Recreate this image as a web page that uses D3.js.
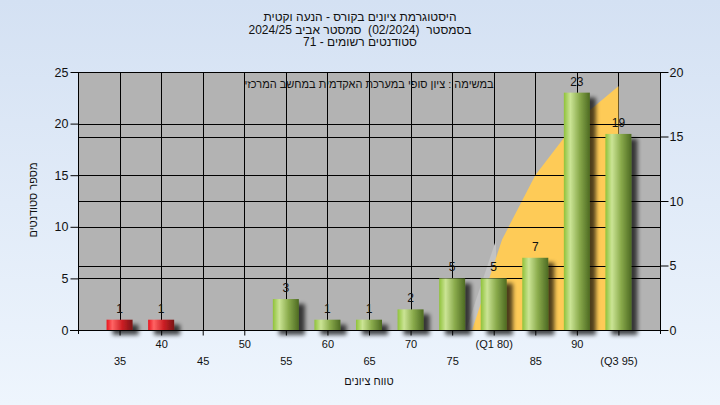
<!DOCTYPE html>
<html>
<head>
<meta charset="utf-8">
<script src="https://cdn.jsdelivr.net/npm/d3@7"></script>
<style>
  body { margin: 0; }
  svg { display: block; font-family: Arial, "Liberation Sans", sans-serif; }
</style>
</head>
<body>
<div id="chart"></div>
<script>
// data
const categories = ['35', '40', '45', '50', '55', '60', '65', '70', '75', '80', '85', '90', '95'];
const tickLabels = ['35', '40', '45', '50', '55', '60', '65', '70', '75', '(Q1 80)', '85', '90', '(Q3 95)'];
const counts = [1, 1, 0, 0, 3, 1, 1, 2, 5, 5, 7, 23, 19];
const failing = ['35', '40'];
const curveGrades = [77.4, 81, 85, 90, 95];
const curveValues = [0, 7.0, 12, 16.2, 18.9];
const leftTicks = [0, 5, 10, 15, 20, 25];
const rightTicks = [0, 5, 10, 15, 20];
const titleLines = [
  'היסטוגרמת ציונים בקורס - הנעה וקטית',
  'בסמסטר  (02/2024)  סמסטר אביב 2024/25',
  'סטודנטים רשומים - 71'
];
const noteText = 'במשימה : ציון סופי במערכת האקדמית במחשב המרכזי';
const yTitle = 'מספר סטודנטים';
const xTitle = 'טווח ציונים';

const svgWidth = 720,
      svgHeight = 405;

const plot = { left: 78, right: 660, top: 72, bottom: 330 };

const svg = d3.select('#chart')
  .append('svg')
  .attr('width', svgWidth)
  .attr('height', svgHeight);

const defs = svg.append('defs');

const bg = defs.append('linearGradient')
  .attr('id', 'bg').attr('x1', 0).attr('y1', 0).attr('x2', 0).attr('y2', 1);
bg.append('stop').attr('offset', '0%').attr('stop-color', '#d4e1f3');
bg.append('stop').attr('offset', '100%').attr('stop-color', '#eef5fd');

const green = defs.append('linearGradient').attr('id', 'green');
[['0%', '#8fc23a'], ['25%', '#cbe495'], ['60%', '#8aab4c'], ['100%', '#4d6a22']]
  .forEach(s => green.append('stop').attr('offset', s[0]).attr('stop-color', s[1]));

const red = defs.append('linearGradient').attr('id', 'red');
[['0%', '#e8141e'], ['22%', '#ff6464'], ['60%', '#cc1e24'], ['100%', '#7a1416']]
  .forEach(s => red.append('stop').attr('offset', s[0]).attr('stop-color', s[1]));

const shadow = defs.append('filter').attr('id', 'shadow')
  .attr('x', '-30%').attr('y', '-30%').attr('width', '180%').attr('height', '180%');
shadow.append('feGaussianBlur').attr('in', 'SourceAlpha').attr('stdDeviation', 2).attr('result', 'b');
shadow.append('feOffset').attr('in', 'b').attr('dx', 6).attr('dy', 5).attr('result', 'o');
shadow.append('feComponentTransfer').attr('in', 'o').attr('result', 's')
  .append('feFuncA').attr('type', 'linear').attr('slope', 0.7);
const merge = shadow.append('feMerge');
merge.append('feMergeNode').attr('in', 's');
merge.append('feMergeNode').attr('in', 'SourceGraphic');

defs.append('clipPath').attr('id', 'plotclip')
  .append('rect')
  .attr('x', plot.left).attr('y', plot.top)
  .attr('width', plot.right - plot.left).attr('height', plot.bottom - plot.top);

svg.append('rect')
  .attr('width', svgWidth).attr('height', svgHeight)
  .attr('fill', 'url(#bg)');

// scales
const x = d3.scalePoint().domain(categories).range([plot.left, plot.right]).padding(1);
const xg = d3.scaleLinear().domain([35, 95]).range([x('35'), x('95')]);
const yL = d3.scaleLinear().domain([0, 25]).range([plot.bottom, plot.top]);
const yR = d3.scaleLinear().domain([0, 20]).range([plot.bottom, plot.top]);

// plot background
svg.append('rect')
  .attr('x', plot.left).attr('y', plot.top)
  .attr('width', plot.right - plot.left).attr('height', plot.bottom - plot.top)
  .attr('fill', '#b3b3b3');

// vertical grid
svg.append('g')
  .selectAll('line')
  .data(categories)
  .join('line')
  .attr('x1', d => Math.round(x(d)) + 0.5).attr('x2', d => Math.round(x(d)) + 0.5)
  .attr('y1', plot.top).attr('y2', plot.bottom)
  .attr('stroke', '#000');

// curve area
const curveData = curveGrades.map((g, i) => ({ g, v: curveValues[i] }));
const area = d3.area()
  .x(d => xg(d.g))
  .y0(yR(0))
  .y1(d => yR(d.v));

const areaG = svg.append('g').attr('clip-path', 'url(#plotclip)');
areaG.append('path')
  .datum(curveData.slice(0, 2))
  .attr('d', area)
  .attr('transform', 'translate(-6,0)')
  .attr('fill', '#c3c3c3');
areaG.append('path')
  .datum(curveData)
  .attr('d', area)
  .attr('fill', '#fecb57');

// horizontal grid
const gridY = leftTicks.map(v => yL(v)).concat(rightTicks.map(v => yR(v)));
svg.append('g')
  .selectAll('line')
  .data(gridY)
  .join('line')
  .attr('x1', plot.left).attr('x2', plot.right)
  .attr('y1', d => Math.round(d) + 0.5).attr('y2', d => Math.round(d) + 0.5)
  .attr('stroke', '#000');

// note
svg.append('text')
  .attr('x', (plot.left + plot.right) / 2)
  .attr('y', 88)
  .attr('text-anchor', 'middle')
  .attr('direction', 'rtl')
  .attr('font-size', 11)
  .attr('fill', '#111')
  .text(noteText);

// bars
const barW = 26;
const barData = categories.map((c, i) => ({ c, v: counts[i] })).filter(d => d.v > 0);
svg.append('g')
  .attr('filter', 'url(#shadow)')
  .selectAll('rect')
  .data(barData)
  .join('rect')
  .attr('x', d => x(d.c) - barW / 2)
  .attr('y', d => yL(d.v))
  .attr('width', barW)
  .attr('height', d => yL(0) - yL(d.v))
  .attr('fill', d => failing.includes(d.c) ? 'url(#red)' : 'url(#green)');

svg.append('g')
  .selectAll('text')
  .data(barData)
  .join('text')
  .attr('x', d => x(d.c))
  .attr('y', d => yL(d.v) - 7)
  .attr('text-anchor', 'middle')
  .attr('font-size', 12)
  .attr('fill', '#111')
  .text(d => d.v);

// axes
const leftAxis = svg.append('g')
  .attr('transform', `translate(${plot.left + 0.5},0)`)
  .call(d3.axisLeft(yL).tickValues(leftTicks).tickSize(8).tickSizeOuter(0));
leftAxis.select('.domain').attr('d', `M0,${plot.top}V${plot.bottom + 4}`);
leftAxis.selectAll('text').attr('font-size', 12.5).attr('fill', '#111').attr('x', -10);

const rightAxis = svg.append('g')
  .attr('transform', `translate(${plot.right + 0.5},0)`)
  .call(d3.axisRight(yR).tickValues(rightTicks).tickSize(8).tickSizeOuter(0));
rightAxis.select('.domain').attr('d', `M0,${plot.top}V${plot.bottom + 4}`);
rightAxis.selectAll('text').attr('font-size', 12.5).attr('fill', '#111').attr('x', 9);

const bottomAxis = svg.append('g')
  .attr('transform', `translate(0,${plot.bottom + 0.5})`)
  .call(d3.axisBottom(x).tickSize(5).tickSizeOuter(0).tickFormat((d, i) => tickLabels[i]));
bottomAxis.select('.domain').attr('d', `M${plot.left - 8},0H${plot.right + 8}`);
bottomAxis.selectAll('text')
  .attr('font-size', 11)
  .attr('fill', '#111')
  .attr('y', (d, i) => i % 2 === 0 ? 27 : 10);

svg.selectAll('.tick line').attr('stroke', '#000');
svg.selectAll('.domain').attr('stroke', '#000');

// titles
svg.append('g')
  .selectAll('text')
  .data(titleLines)
  .join('text')
  .attr('x', 360)
  .attr('y', (d, i) => 21 + i * 12.5)
  .attr('text-anchor', 'middle')
  .attr('direction', 'rtl')
  .style('white-space', 'pre')
  .attr('font-size', 12)
  .attr('fill', '#111')
  .text(d => d);

svg.append('text')
  .attr('transform', 'translate(37,200) rotate(-90)')
  .attr('text-anchor', 'middle')
  .attr('direction', 'rtl')
  .attr('font-size', 11)
  .attr('fill', '#111')
  .text(yTitle);

svg.append('text')
  .attr('x', (plot.left + plot.right) / 2)
  .attr('y', 385)
  .attr('text-anchor', 'middle')
  .attr('direction', 'rtl')
  .attr('font-size', 11)
  .attr('fill', '#111')
  .text(xTitle);
</script>
</body>
</html>
